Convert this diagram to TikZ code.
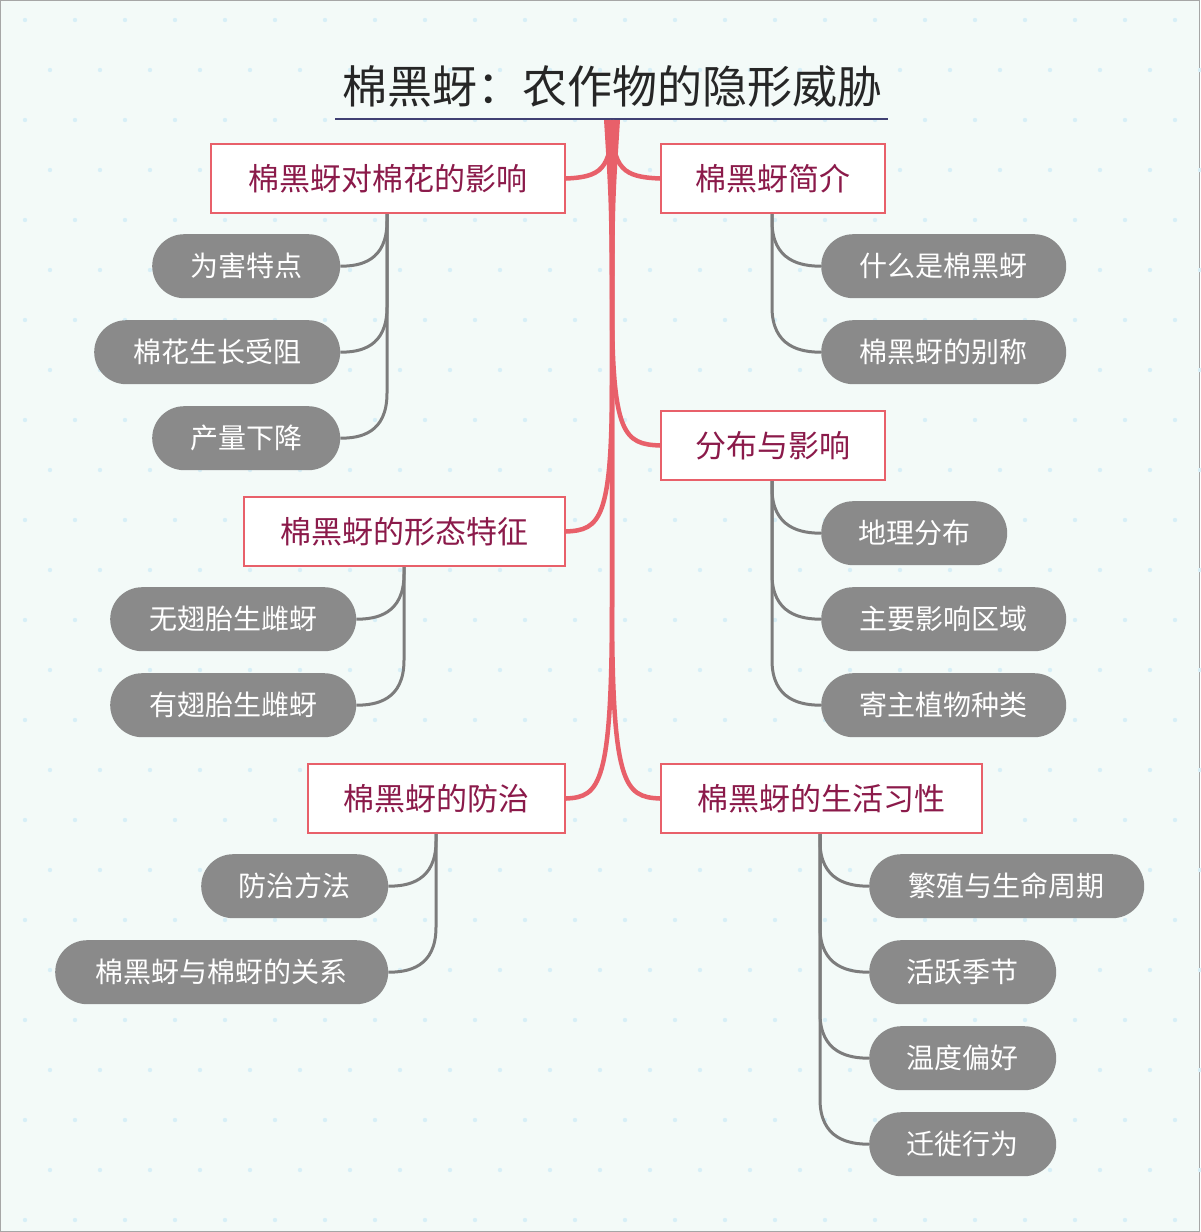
\documentclass[tikz,border=0pt]{standalone}
\usepackage{fontspec}
\setmainfont{Noto Sans CJK SC}
\begin{document}
\begin{tikzpicture}[x=1pt,y=-1pt,
 mainbox/.style={draw=boxred,line width=2pt,fill=white,text=boxtext,font=\fontsize{31}{34}\selectfont,inner sep=0pt,anchor=north west},
 pill/.style={fill=pillgray,text=white,rounded corners=32pt,font=\fontsize{28}{32}\selectfont,inner sep=0pt,anchor=north west},
 trunk/.style={draw=boxred,line width=4.5pt},
 twig/.style={draw=pillgray!90!black,line width=3pt}]
\definecolor{boxred}{HTML}{E8606A}
\definecolor{boxtext}{HTML}{8B1A4A}
\definecolor{pillgray}{HTML}{8A8A8A}
\definecolor{bg}{HTML}{F3FAF8}
\useasboundingbox (0,0) rectangle (1200,1232);
\fill[bg,draw=gray!70] (0.5,0.5) rectangle (1199.5,1231.5);
\foreach \i in {0,...,23}{\foreach \j in {0,...,24}{
 \fill[cyan!12!bg] ({25+50*\i+mod(\j,2)*25},{20+50*\j}) circle (2.2pt);}}
% title
\node[font=\fontsize{45}{48}\selectfont,text=black!85] (title) at (612,86) {棉黑蚜：农作物的隐形威胁};
\draw[draw=black!60!blue!50!gray,line width=2.5pt] (335,119) -- (888,119);
% main boxes
\def\mb#1#2#3#4#5{\node[mainbox,minimum width=#4pt,minimum height=69pt] (#1) at (#2,#3) {#5};}
\mb{A}{210}{143}{354}{棉黑蚜对棉花的影响}
\mb{B}{243}{496}{321}{棉黑蚜的形态特征}
\mb{C}{307}{763}{257}{棉黑蚜的防治}
\mb{D}{660}{143}{224}{棉黑蚜简介}
\mb{E}{660}{410}{224}{分布与影响}
\mb{F}{660}{763}{321}{棉黑蚜的生活习性}
\coordinate (top) at (612,120);
% trunk branches
\fill[boxred] (604,120) -- (620,120) .. controls (615,200) .. (614,300) -- (610,300) .. controls (609,200) .. (604,120) -- cycle;
\draw[trunk] (top) .. controls (612,170) and (600,177) .. (A.east);
\draw[trunk] (top) .. controls (612,170) and (624,177) .. (D.west);
\draw[trunk] (top) -- (612,380) .. controls (612,520) and (600,530) .. (B.east);
\draw[trunk] (top) -- (612,300) .. controls (612,435) and (624,444) .. (E.west);
\draw[trunk] (top) -- (612,600) .. controls (612,785) and (600,797) .. (C.east);
\draw[trunk] (top) -- (612,600) .. controls (612,785) and (624,797) .. (F.west);
% pills
\def\pl#1#2#3#4#5{\node[pill,minimum width=#4pt,minimum height=64pt] (#1) at (#2,{#3-32}) {#5};}
\pl{a1}{152}{266}{188}{为害特点}
\pl{a2}{94}{352}{246}{棉花生长受阻}
\pl{a3}{152}{438}{188}{产量下降}
\pl{b1}{110}{619}{246}{无翅胎生雌蚜}
\pl{b2}{110}{705}{246}{有翅胎生雌蚜}
\pl{c1}{201}{886}{187}{防治方法}
\pl{c2}{55}{972}{333}{棉黑蚜与棉蚜的关系}
\pl{d1}{821}{266}{245}{什么是棉黑蚜}
\pl{d2}{821}{352}{245}{棉黑蚜的别称}
\pl{e1}{821}{533}{186}{地理分布}
\pl{e2}{821}{619}{245}{主要影响区域}
\pl{e3}{821}{705}{245}{寄主植物种类}
\pl{f1}{869}{886}{275}{繁殖与生命周期}
\pl{f2}{869}{972}{187}{活跃季节}
\pl{f3}{869}{1058}{187}{温度偏好}
\pl{f4}{869}{1144}{187}{迁徙行为}
% twigs
\def\tw#1#2#3{\draw[twig] (#1.south -| #2,0) -- ([yshift=45pt] #3.east -| #2,0) .. controls ([yshift=5pt] #3.east -| #2,0) and ([xshift=20pt] #3.east) .. (#3.east);}
\def\tr#1#2#3{\draw[twig] (#1.south -| #2,0) -- ([yshift=45pt] #3.west -| #2,0) .. controls ([yshift=5pt] #3.west -| #2,0) and ([xshift=-20pt] #3.west) .. (#3.west);}
\foreach \p in {a1,a2,a3}{\tw{A}{387}{\p}}
\foreach \p in {b1,b2}{\tw{B}{404}{\p}}
\foreach \p in {c1,c2}{\tw{C}{436}{\p}}
\foreach \p in {d1,d2}{\tr{D}{772}{\p}}
\foreach \p in {e1,e2,e3}{\tr{E}{772}{\p}}
\foreach \p in {f1,f2,f3,f4}{\tr{F}{820}{\p}}
\end{tikzpicture}
\end{document}
